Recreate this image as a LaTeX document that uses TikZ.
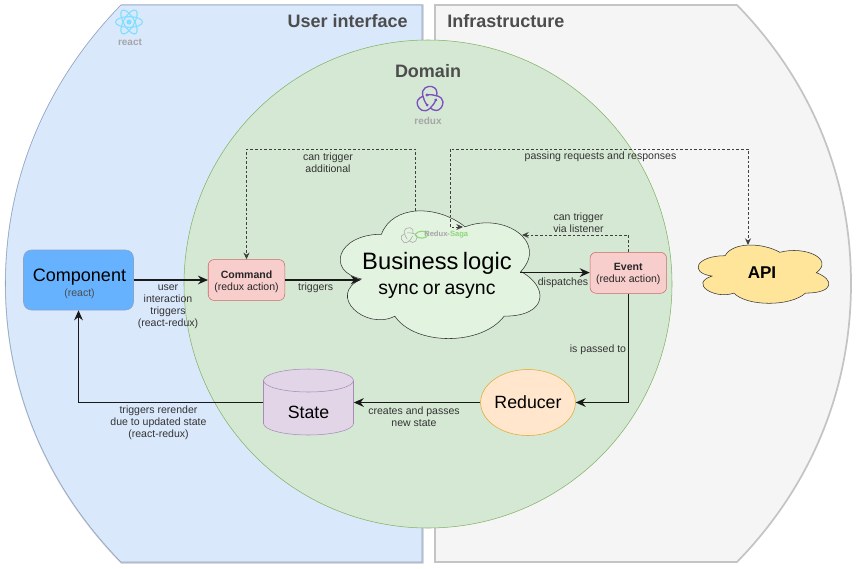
\documentclass[tikz,border=0pt]{standalone}
\usepackage{fontspec}
\setmainfont{Liberation Sans}
\usepackage{tikz}
\usetikzlibrary{arrows.meta, shapes.geometric}
\definecolor{zoneblue}{HTML}{DAE8FC}
\definecolor{zoneblueline}{HTML}{8AA3C8}
\definecolor{zonegray}{HTML}{F5F5F5}
\definecolor{zonegrayline}{HTML}{C4C4C4}
\definecolor{domaingreen}{HTML}{D5E8D4}
\definecolor{domainline}{HTML}{82B366}
\definecolor{titlegray}{HTML}{4D4D4D}
\definecolor{logogray}{HTML}{A6A6A6}
\definecolor{reactblue}{HTML}{7FDFFF}
\definecolor{reduxpurple}{HTML}{7C50C0}
\definecolor{sagagreen}{HTML}{8FD67A}
\definecolor{componentblue}{HTML}{66B2FF}
\definecolor{actionred}{HTML}{F8CECC}
\definecolor{actionline}{HTML}{C96A66}
\definecolor{logiccloud}{HTML}{E2F3DF}
\definecolor{apicloud}{HTML}{FFE599}
\definecolor{reducerfill}{HTML}{FFE6CC}
\definecolor{reducerline}{HTML}{E0A92E}
\definecolor{statefill}{HTML}{E1D5E7}
\definecolor{stateline}{HTML}{A98BB8}
\newcommand{\cloudpath}{(.25,.25) .. controls (.05,.25) and (0,.5) .. (.16,.55)
  .. controls (0,.66) and (.18,.9) .. (.31,.8)
  .. controls (.4,1) and (.7,1) .. (.8,.8)
  .. controls (1,.8) and (1,.6) .. (.875,.5)
  .. controls (1,.3) and (.8,.1) .. (.625,.2)
  .. controls (.5,.05) and (.3,.05) .. (.25,.25) -- cycle}
\newcommand{\reduxpath}{(-3,-5) .. controls (3,-6) and (13,-4) .. (13,2)
  .. controls (13,7) and (9.5,10.5) .. (6,10.5)
  .. controls (3.5,10.5) and (1.5,9) .. (0,7.5)}
\tikzset{
  flow/.style={-{Stealth[length=7.5pt,width=6.5pt]},line width=1.1pt,black!90},
  hintone/.style={-{Stealth[length=5pt,width=4.5pt]},line width=.75pt,dash pattern=on 2pt off 1.5pt,black!75},
  hint/.style={hintone,{Stealth[length=5pt,width=4.5pt]}-{Stealth[length=5pt,width=4.5pt]}},
  caption/.style={align=center,inner sep=0pt,text=black!80,font=\fontsize{7.9}{9}\selectfont},
  title/.style={inner sep=0pt,text=titlegray,font=\bfseries\fontsize{13.5}{15}\selectfont},
  logotext/.style={inner sep=0pt,text=logogray,font=\bfseries\fontsize{7.5}{9}\selectfont},
  action/.style={draw=actionline,fill=actionred,rounded corners=4.5pt,minimum width=57.4pt,minimum height=30.7pt,align=center,inner sep=0pt,font=\fontsize{7.9}{9}\selectfont,text=black!85},
  bigtext/.style={inner sep=0pt,font=\fontsize{13.3}{15}\selectfont}
}
\begin{document}
\begin{tikzpicture}[x=.75pt,y=-.75pt]
  \useasboundingbox (0,0) rectangle (857,568);
  % zones
  \draw[gray!45,line width=1.6pt,shift={(.5,.5)}] (121,5) -- (422,5) -- (422,562) -- (121,562)
    .. controls (45,484) and (5.5,387) .. (5.5,283.5) .. controls (5.5,180) and (45,83) .. (121,5) -- cycle;
  \draw[fill=zoneblue,draw=zoneblueline] (121,5) -- (422,5) -- (422,562) -- (121,562)
    .. controls (45,484) and (5.5,387) .. (5.5,283.5) .. controls (5.5,180) and (45,83) .. (121,5) -- cycle;
  \draw[fill=zonegray,draw=zonegrayline,line width=1.3pt] (435,5) -- (737,5)
    .. controls (813,83) and (851,180) .. (851,283.5) .. controls (851,387) and (813,484) .. (737,562) -- (435,562) -- cycle;
  \draw[fill=domaingreen,draw=domainline] (428,284) circle [radius=244];
  \node[title,anchor=east] (uititle) at (408,21) {User interface};
  \node[title,anchor=west] (infratitle) at (447,21) {Infrastructure};
  \node[title] (domaintitle) at (428,71) {Domain};
  % react logo
  \foreach \ang in {0,60,120}
    \draw[reactblue,line width=.8pt,rotate around={\ang:(129,22)}] (129,22) ellipse [x radius=13.5,y radius=5.3];
  \fill[reactblue] (129,22) circle [radius=2.6];
  \node[logotext] (reacttext) at (130,42) {react};
  % redux logo
  \begin{scope}[shift={(430,100)}]
    \foreach \ang in {0,120,240}
      \draw[reduxpurple,line width=1pt,rotate=\ang] \reduxpath;
    \foreach \ang in {0,120,240}
      \fill[reduxpurple,rotate=\ang] (-3,-5) circle [radius=1.6];
  \end{scope}
  \node[logotext] (reduxtext) at (428,121) {redux};
  % clouds
  \draw[fill=logiccloud,draw=black!80,shift={(325.7,197)},xscale=223,yscale=149] \cloudpath;
  \draw[fill=apicloud,draw=black!80,shift={(688.6,238.7)},xscale=146,yscale=68] \cloudpath;
  % saga logo
  \begin{scope}[shift={(409,236)},scale=.62]
    \foreach \ang in {0,120,240}
      \draw[logogray,line width=.4pt,rotate=\ang] \reduxpath;
  \end{scope}
  \draw[sagagreen,line width=.8pt] (415,234.5) .. controls (418,230) and (427,230) .. (428,234.5) .. controls (427,239) and (418,239.5) .. (415,235);
  \node[inner sep=0pt,anchor=west,font=\bfseries\fontsize{5.7}{6}\selectfont] (sagatext) at (424,235) {\textcolor{logogray}{Redux-}\textcolor{sagagreen}{Saga}};
  % nodes
  \node[draw=zoneblueline,fill=componentblue,rounded corners=6pt,minimum width=82.5pt,minimum height=45pt,inner sep=0pt] (component) at (78.5,280) {};
  \node[align=center,inner sep=0pt] (componenttext) at (79.5,283.5)
    {{\fontsize{13.5}{15}\selectfont Component}\\[-1pt]{\fontsize{7.9}{9}\selectfont\textcolor{black!70}{(react)}}};
  \node[action] (command) at (246.5,280) {\rule{0pt}{8pt}\textbf{Command}\\(redux action)};
  \node[action] (event) at (628.3,272.8) {\rule{0pt}{7.5pt}\textbf{Event}\\(redux action)};
  \node[inner sep=0pt,text width=114pt,align=center] (logic) at (437,275.5)
    {{\fontsize{17.8}{21}\selectfont Business logic}\\[6.5pt]{\fontsize{14.6}{18}\selectfont sync or async}};
  \coordinate (logicout) at (520,272.6);
  \coordinate (logictop) at (415,211);
  \coordinate (logicsaga) at (463,227);
  \coordinate (logicside) at (522,235);
  \coordinate (addcorner) at (246.5,149);
  \coordinate (sagacorner) at (450,149);
  \node[inner sep=0pt,font=\bfseries\fontsize{12.8}{15}\selectfont] (api) at (762,273) {API};
  \coordinate (apitop) at (748,245);
  \node[draw=reducerline,fill=reducerfill,ellipse,minimum width=69pt,minimum height=49.5pt,inner sep=0pt,font=\fontsize{13.3}{15}\selectfont] (reducer) at (528,402.5) {Reducer};
  \draw[draw=stateline,fill=statefill] (263.5,380.5) arc[start angle=180,end angle=360,x radius=45,y radius=11.5] -- (353.5,423.5) arc[start angle=0,end angle=180,x radius=45,y radius=11.5] -- cycle;
  \draw[draw=stateline] (263.5,380.5) arc[start angle=180,end angle=0,x radius=45,y radius=11.5];
  \node[minimum width=67.5pt,minimum height=49.5pt,inner sep=0pt] (state) at (308.5,402.5) {};
  \node[bigtext] (statetext) at (308.5,412) {State};
  % connectors
  \draw[flow] (component.east) -- (command.west);
  \draw[flow] (command.east) -- (command.east -| logic.west);
  \draw[flow] (logicout) -- (logicout -| event.west);
  \draw[flow] (event.south) |- (reducer.east);
  \draw[flow] (reducer.west) -- (state.east);
  \draw[flow] (state.west) -| (component.south);
  \draw[hintone] (logictop) |- (addcorner) -- (command.north);
  \draw[hint] (logicsaga) -| (sagacorner) -| (apitop);
  \draw[hintone] (event.north) |- (logicside);
  % labels
  \node[caption] (lbladditional) at (328,163) {can trigger\\additional};
  \node[caption] (lblpassing) at (600.5,157) {passing requests and responses};
  \node[caption] (lbllistener) at (578.5,223) {can trigger\\via listener};
  \node[caption] (lbldispatches) at (563,283) {dispatches};
  \node[caption] (lbltriggers) at (315.7,288) {triggers};
  \node[caption] (lbluser) at (168,307) {user\\interaction\\triggers\\(react-redux)};
  \node[caption] (lblrerender) at (158.5,423) {triggers rerender\\due to updated state\\(react-redux)};
  \node[caption] (lblcreates) at (414,417) {creates and passes\\new state};
  \node[caption] (lblpassed) at (598,350) {is passed to};
\end{tikzpicture}
\end{document}
